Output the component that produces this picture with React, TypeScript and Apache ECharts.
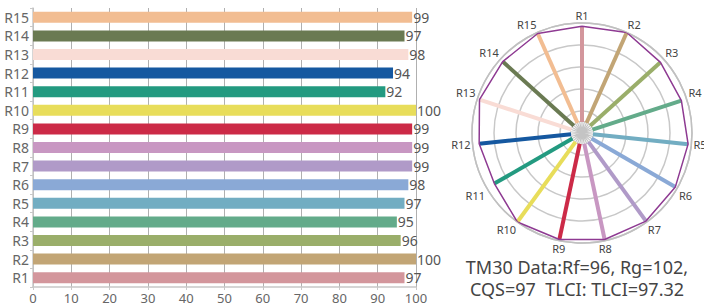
import React, { useEffect, useRef } from "react";
import * as echarts from "echarts";

const categories = ["R1", "R2", "R3", "R4", "R5", "R6", "R7", "R8", "R9", "R10", "R11", "R12", "R13", "R14", "R15"];
const values = [97, 100, 96, 95, 97, 98, 99, 99, 99, 100, 92, 94, 98, 97, 99];
const colors = [
  "#d3969c", "#c2a575", "#9aae6a", "#63ab8a", "#72adc2", "#8aa9d6", "#b09ac8",
  "#c897c2", "#cc2a47", "#e8dd5a", "#239a80", "#1558a0", "#f9dcd5", "#6a7a52", "#f2bd92",
];
const xTicks = [0, 100, 10];
const summaryLines = ["TM30 Data:Rf=96, Rg=102,", "CQS=97  TLCI: TLCI=97.32"];
const radialStart = 10;
const starRadius = 11;

export default function App() {
  const ref = useRef<HTMLDivElement>(null);
  useEffect(() => {
    document.body.style.margin = "0";
    const chart = echarts.init(ref.current!, null, { renderer: "svg" });
    const font = "'Noto Sans', sans-serif";

    const starData: number[][] = [];
    for (let k = 0; k < 30; k++) {
      starData.push([0, k * 0.5]);
      starData.push([starRadius, k * 0.5]);
    }
    starData.push([0, 0]);

    const radialSeries = values.map((v, i) => ({
      type: "line",
      coordinateSystem: "polar",
      polarIndex: 0,
      data: [[radialStart, i], [v, i]],
      showSymbol: false,
      silent: true,
      lineStyle: { color: colors[i], width: 4, cap: "butt" },
      z: 3,
    }));

    const polyData = values.map((v, i) => [v, i]);
    polyData.push([values[0], 0]);

    chart.setOption({
      animation: false,
      grid: { left: 33, right: 288, top: 8, bottom: 20, containLabel: false },
      xAxis: {
        type: "value",
        min: xTicks[0],
        max: xTicks[1],
        interval: xTicks[2],
        axisLine: { show: true, lineStyle: { color: "#c8c8c8", width: 1.5 } },
        axisTick: { show: true, length: 3, lineStyle: { color: "#c8c8c8" } },
        axisLabel: { color: "#666", fontSize: 13, fontFamily: font, margin: 4 },
        splitLine: { show: true, lineStyle: { color: "#b0b0b0", width: 1 } },
      },
      yAxis: {
        type: "category",
        data: categories,
        axisLine: { show: true, lineStyle: { color: "#c8c8c8", width: 1.5 } },
        axisTick: { show: true, length: 3, lineStyle: { color: "#c8c8c8" } },
        axisLabel: { color: "#666", fontSize: 14, fontFamily: font, margin: 4 },
      },
      polar: { center: [582, 133], radius: 110 },
      angleAxis: {
        type: "value",
        min: 0,
        max: 15,
        interval: 1,
        startAngle: 90,
        clockwise: true,
        axisLine: { show: true, lineStyle: { color: "#c0c0c0", width: 1.5 } },
        axisTick: { show: false },
        splitLine: { show: false },
        axisLabel: {
          color: "#444",
          fontSize: 11,
          fontFamily: font,
          margin: 2,
          lineHeight: 12,
          formatter: (v: number) => (v >= 15 ? "" : categories[v]),
        },
      },
      radiusAxis: {
        type: "value",
        min: 0,
        max: 100,
        interval: 20,
        axisLine: { show: false },
        axisTick: { show: false },
        axisLabel: { show: false },
        splitLine: { show: true, lineStyle: { color: "#c8c8c8", width: 1.5 } },
      },
      graphic: summaryLines.map((t, i) => ({
        type: "text",
        x: 577,
        y: 267 + i * 22,
        style: {
          text: t,
          fill: "#444",
          font: `18px ${font}`,
          lineHeight: 18,
          textAlign: "center",
          textVerticalAlign: "middle",
        },
      })),
      series: [
        {
          type: "bar",
          xAxisIndex: 0,
          yAxisIndex: 0,
          barWidth: 11,
          data: values.map((v, i) => ({ value: v, itemStyle: { color: colors[i] } })),
          label: { show: true, position: "right", color: "#555", fontSize: 14, fontFamily: font, distance: 1 },
        },
        {
          type: "line",
          coordinateSystem: "polar",
          polarIndex: 0,
          data: starData,
          showSymbol: false,
          silent: true,
          lineStyle: { color: "#c4c4c4", width: 1.2 },
          z: 2,
        },
        ...radialSeries,
        {
          type: "line",
          coordinateSystem: "polar",
          polarIndex: 0,
          data: polyData,
          showSymbol: false,
          silent: true,
          lineStyle: { color: "#8e3a92", width: 1.5 },
          z: 4,
        },
      ],
    });
    return () => chart.dispose();
  }, []);
  return <div ref={ref} style={{ width: 704, height: 307 }} />;
}
